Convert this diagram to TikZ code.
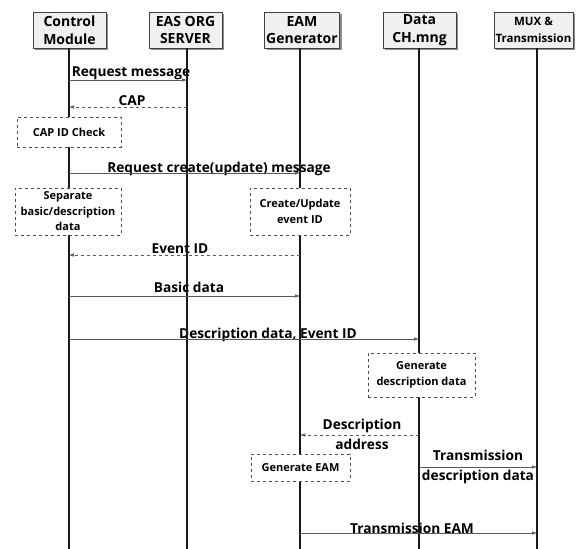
\documentclass[tikz,border=0pt]{standalone}
\usepackage{fontspec}
\setmainfont{Open Sans}
\usetikzlibrary{arrows.meta,shadows}
\begin{document}
\begin{tikzpicture}[x=1pt,y=-1pt,
  head/.style={draw=black!75,line width=0.8pt,fill=black!6,minimum height=36pt,inner sep=0pt,align=center,
    font=\bfseries\fontsize{14}{17.5}\selectfont,
    drop shadow={shadow xshift=2pt,shadow yshift=-2pt,fill=black!45,opacity=1}},
  life/.style={line width=1.4pt,black!90},
  act/.style={draw=black!70,dashed,line width=0.6pt,fill=white,inner sep=0pt,align=center,
    font=\bfseries\fontsize{11}{15.5}\selectfont},
  msg/.style={line width=0.6pt,black!65,-{Latex[length=5pt,width=3.5pt]}},
  rmsg/.style={msg,dashed},
  lbl/.style={anchor=base,inner sep=0pt,font=\bfseries\fontsize{13.7}{19.5}\selectfont,align=center}
]
\useasboundingbox[fill=white] (0,0) rectangle (584,549);
% message labels (drawn first; lifelines cross them)
\node[lbl] (l1) at (131,76) {Request message};
\node[lbl] (l2) at (132,105) {CAP};
\node[lbl] (l3) at (219,172) {Request create(update) message};
\node[lbl] (l4) at (180,253) {Event ID};
\node[lbl] (l5) at (189,292) {Basic data};
\node[lbl] (l6) at (268,338) {Description data, Event ID};
\node[lbl,anchor=north] (l7) at (362,419) {Description\\address};
\node[lbl,anchor=north] (l8) at (478,450) {Transmission\\description data};
\node[lbl] (l9) at (412,533) {Transmission EAM};
% headers
\node[head,minimum width=73pt] (h1) at (69.5,30) {Control\\Module};
\node[head,minimum width=73pt] (h2) at (185.5,30) {EAS ORG\\SERVER};
\node[head,minimum width=75pt] (h3) at (302,30) {EAM\\Generator};
\node[head,minimum width=73pt] (h4) at (419.5,30) {Data\\CH.mng};
\node[head,minimum width=79pt,font=\bfseries\fontsize{11.5}{17}\selectfont] (h5) at (533.5,30) {MUX \&\\Transmission};
% lifeline ends
\coordinate (e1) at (69,549);
\coordinate (e2) at (187,549);
\coordinate (e3) at (300,549);
\coordinate (e4) at (419,549);
\coordinate (e5) at (537,549);
\draw[life] (h1.south -| e1) -- (e1);
\draw[life] (h2.south -| e2) -- (e2);
\draw[life] (h3.south -| e3) -- (e3);
\draw[life] (h4.south -| e4) -- (e4);
\draw[life] (h5.south -| e5) -- (e5);
% message endpoints
\coordinate (a1) at (69,80);  \coordinate (b1) at (187,80);
\coordinate (a2) at (187,107); \coordinate (b2) at (69,107);
\coordinate (a3) at (69,173); \coordinate (b3) at (300,173);
\coordinate (a4) at (300,255); \coordinate (b4) at (69,255);
\coordinate (a5) at (69,296); \coordinate (b5) at (300,296);
\coordinate (a6) at (69,339); \coordinate (b6) at (419,339);
\coordinate (a7) at (419,435); \coordinate (b7) at (300,435);
\coordinate (a8) at (419,467); \coordinate (b8) at (537,467);
\coordinate (a9) at (300,533); \coordinate (b9) at (537,533);
\draw[msg] (a1) -- (b1);
\draw[rmsg] (a2) -- (b2);
\draw[msg] (a3) -- (b3);
\draw[rmsg] (a4) -- (b4);
\draw[msg] (a5) -- (b5);
\draw[msg] (a6) -- (b6);
\draw[rmsg] (a7) -- (b7);
\draw[msg] (a8) -- (b8);
\draw[msg] (a9) -- (b9);
% activity boxes
\node[act,minimum width=104pt,minimum height=30pt] (c1) at (69,132) {CAP ID Check};
\node[act,minimum width=106pt,minimum height=47pt] (c2) at (68,211.5) {Separate\\basic/description\\data};
\node[act,minimum width=100pt,minimum height=47pt] (c3) at (300,211.5) {Create/Update\\event ID};
\node[act,minimum width=107pt,minimum height=44pt] (c4) at (421.5,375) {Generate\\description data};
\node[act,minimum width=99pt,minimum height=27pt] (c5) at (300.5,467.5) {Generate EAM};
\end{tikzpicture}
\end{document}
